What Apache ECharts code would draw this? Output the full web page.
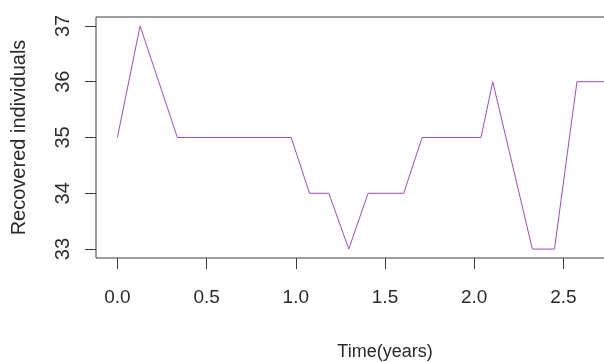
<!DOCTYPE html>
<html>
<head>
<meta charset="utf-8">
<script src="https://cdn.jsdelivr.net/npm/echarts@6/dist/echarts.min.js"></script>
<style>
  html, body { margin: 0; padding: 0; background: #ffffff; }
  #chart { width: 604px; height: 362px; }
</style>
</head>
<body>
<div id="chart"></div>
<script>
// Recovered individuals over time (years)
const times = [0, 0.127, 0.336, 0.974, 1.077, 1.185, 1.297, 1.405, 1.605, 1.708, 2.038, 2.104, 2.326, 2.450, 2.576, 3.0];
const recovered = [35, 37, 35, 35, 34, 34, 33, 34, 34, 35, 35, 36, 33, 33, 36, 36];

const xTicks = [0, 0.5, 1.0, 1.5, 2.0, 2.5, 3.0];
const yTicks = [33, 34, 35, 36, 37];

const xTitle = 'Time(years)';
const yTitle = 'Recovered individuals';

const points = times.map((t, i) => [t, recovered[i]]);

const ink = '#2a2a2a';
const font = "'Liberation Sans', Arial, sans-serif";

const chart = echarts.init(document.getElementById('chart'), null, { renderer: 'canvas' });

chart.setOption({
  animation: false,
  backgroundColor: '#ffffff',
  grid: {
    left: 96,
    top: 17,
    width: 578,
    height: 241,
    outerBoundsMode: 'none',
    containLabel: false,
    show: true,
    borderColor: '#3a3a3a',
    borderWidth: 1,
    backgroundColor: 'transparent'
  },
  xAxis: {
    type: 'value',
    min: -0.12,
    max: 3.12,
    splitLine: { show: false },
    axisLine: { show: false, onZero: false },
    axisTick: {
      show: true,
      customValues: xTicks,
      length: 11,
      inside: false,
      lineStyle: { color: '#3a3a3a', width: 1 }
    },
    axisLabel: {
      customValues: xTicks,
      formatter: v => v.toFixed(1),
      margin: 30,
      color: ink,
      fontSize: 19,
      fontFamily: font
    },
    name: xTitle,
    nameLocation: 'middle',
    nameGap: 85,
    nameTextStyle: { color: ink, fontSize: 18, fontFamily: font }
  },
  yAxis: {
    type: 'value',
    min: 32.84,
    max: 37.16,
    splitLine: { show: false },
    axisLine: { show: false, onZero: false },
    axisTick: {
      show: true,
      customValues: yTicks,
      length: 11,
      inside: false,
      lineStyle: { color: '#3a3a3a', width: 1 }
    },
    axisLabel: {
      customValues: yTicks,
      formatter: v => String(v),
      rotate: 90,
      margin: 23,
      color: ink,
      fontSize: 20,
      fontFamily: font
    },
    name: yTitle,
    nameLocation: 'middle',
    nameRotate: 90,
    nameGap: 67,
    nameTextStyle: { color: ink, fontSize: 20, fontFamily: font }
  },
  series: [{
    type: 'line',
    data: points,
    symbol: 'none',
    clip: true,
    lineStyle: { color: '#9c4dbf', width: 1 }
  }]
});
</script>
</body>
</html>
